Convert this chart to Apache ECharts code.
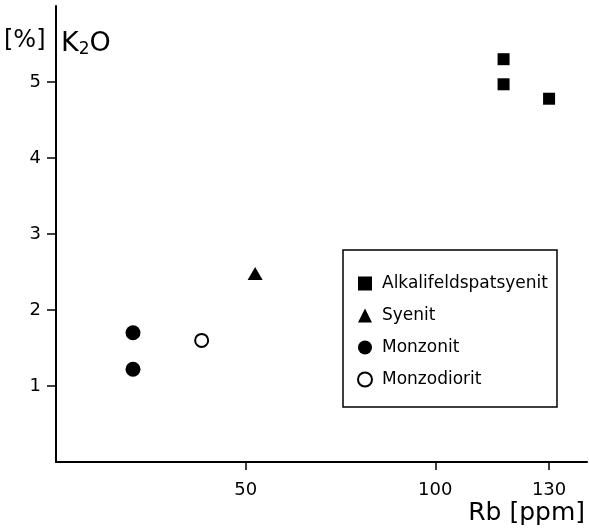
<!DOCTYPE html>
<html>
<head>
<meta charset="utf-8">
<script src="https://cdn.jsdelivr.net/npm/echarts@6/dist/echarts.min.js"></script>
<style>
html, body { margin: 0; padding: 0; background: #fff; }
#main { width: 589px; height: 528px; }
</style>
</head>
<body>
<div id="main"></div>
<script>
// Rb [ppm] vs K2O [%]
var alkaliRb = [118, 118, 130];
var alkaliK2O = [5.3, 4.97, 4.78];
var syenitRb = [52.5];
var syenitK2O = [2.48];
var monzonitRb = [20.3, 20.3];
var monzonitK2O = [1.7, 1.22];
var monzodioritRb = [38.4];
var monzodioritK2O = [1.6];

var xTicks = [50, 100, 130];
var yTicks = [1, 2, 3, 4, 5];

function pairs(xs, ys) {
    return xs.map(function (x, i) { return [x, ys[i]]; });
}

var font = 'DejaVu Sans';

var myChart = echarts.init(document.getElementById('main'));
var option = {
    animation: false,
    backgroundColor: '#fff',
    grid: { left: 56, right: 2, top: 6, bottom: 66 },
    xAxis: {
        type: 'value',
        min: 0,
        max: 140,
        splitLine: { show: false },
        axisLine: { lineStyle: { color: '#000', width: 2 } },
        axisTick: { customValues: xTicks, length: 8, lineStyle: { color: '#000', width: 1.5 } },
        axisLabel: { customValues: xTicks, color: '#000', fontFamily: font, fontSize: 18, margin: 19 }
    },
    yAxis: {
        type: 'value',
        min: 0,
        max: 6,
        splitLine: { show: false },
        axisLine: { lineStyle: { color: '#000', width: 2 } },
        axisTick: { customValues: yTicks, length: 9, lineStyle: { color: '#000', width: 1.5 } },
        axisLabel: { customValues: yTicks, color: '#000', fontFamily: font, fontSize: 18, margin: 15 }
    },
    legend: {
        orient: 'vertical',
        left: 343,
        top: 250,
        borderColor: '#000',
        borderWidth: 1.5,
        padding: [25, 9, 19, 14],
        itemGap: 15,
        itemWidth: 14,
        itemHeight: 14,
        textStyle: { color: '#000', fontFamily: font, fontSize: 17, lineHeight: 17, padding: [0, 0, 0, 5] },
        data: ['Alkalifeldspatsyenit', 'Syenit', 'Monzonit', 'Monzodiorit']
    },
    graphic: [
        { type: 'text', left: 4, top: 29, style: { text: '[%]', font: '24px "DejaVu Sans"', fill: '#000' } },
        {
            type: 'text', left: 61, top: 30,
            style: {
                text: '{a|K}{b|2}{a|O}',
                rich: {
                    a: { fontFamily: font, fontSize: 27, fill: '#000' },
                    b: { fontFamily: font, fontSize: 17, fill: '#000', padding: [12, 0, 0, 0] }
                }
            }
        },
        { type: 'text', right: 4, top: 501, style: { text: 'Rb [ppm]', font: '25px "DejaVu Sans"', fill: '#000' } }
    ],
    series: [{
        name: 'Alkalifeldspatsyenit',
        type: 'scatter',
        symbol: 'rect',
        symbolSize: 12,
        itemStyle: { color: '#000', opacity: 1 },
        data: pairs(alkaliRb, alkaliK2O)
    }, {
        name: 'Syenit',
        type: 'scatter',
        symbol: 'triangle',
        symbolSize: [15, 13],
        itemStyle: { color: '#000', opacity: 1 },
        data: pairs(syenitRb, syenitK2O)
    }, {
        name: 'Monzonit',
        type: 'scatter',
        symbol: 'circle',
        symbolSize: 15,
        itemStyle: { color: '#000', opacity: 1 },
        data: pairs(monzonitRb, monzonitK2O)
    }, {
        name: 'Monzodiorit',
        type: 'scatter',
        symbol: 'emptyCircle',
        symbolSize: 13,
        itemStyle: { color: '#000', borderWidth: 2, opacity: 1 },
        data: pairs(monzodioritRb, monzodioritK2O)
    }]
};
myChart.setOption(option);
</script>
</body>
</html>
